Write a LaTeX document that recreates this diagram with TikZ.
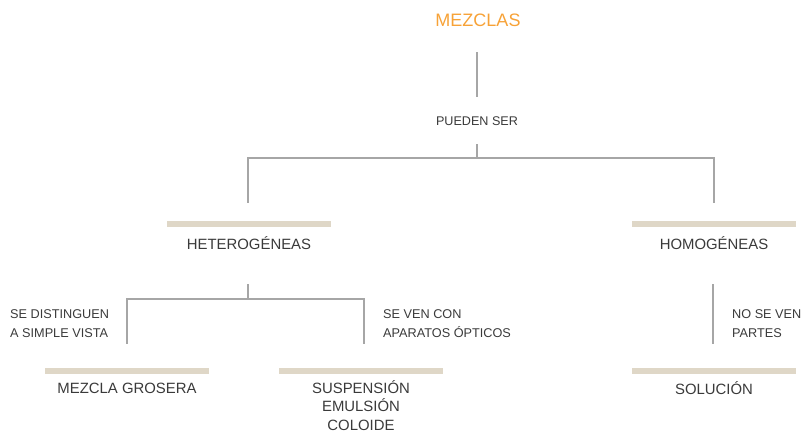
\documentclass[tikz,border=0pt]{standalone}
\usepackage{fontspec}
\setmainfont{Liberation Sans}
\usetikzlibrary{calc}
\definecolor{orangetxt}{HTML}{F7A237}
\definecolor{bartan}{HTML}{DFD7C7}
\definecolor{linegray}{HTML}{A6A6A6}
\definecolor{txtgray}{HTML}{3A3A3A}
\begin{document}
\begin{tikzpicture}[x=1pt,y=-1pt,
  conn/.style={draw=linegray,line width=1.4pt},
  barbox/.style={rectangle,fill=bartan,minimum width=164pt,minimum height=6.5pt,inner sep=0pt},
  maintxt/.style={text=txtgray,font=\fontsize{14.9}{19}\selectfont,align=center,inner sep=0pt},
  smalltxt/.style={text=txtgray,font=\fontsize{12.7}{19}\selectfont,align=left,inner sep=0pt,anchor=west},
  titletxt/.style={text=orangetxt,font=\fontsize{18}{20}\selectfont,inner sep=0pt}]
\useasboundingbox (0,0) rectangle (803,432);
\node[titletxt] (mezclas) at (478,20) {MEZCLAS};
\node[text=txtgray,font=\fontsize{12.6}{15}\selectfont,inner sep=0pt] (pueden) at (477,121) {PUEDEN SER};
\node[barbox] (hetbar) at (249,224) {};
\node[barbox] (hombar) at (714,224) {};
\node[maintxt] (hettxt) at (249,243) {HETEROGÉNEAS};
\node[maintxt] (homtxt) at (714,243) {HOMOGÉNEAS};
\node[barbox] (grosbar) at (127,371) {};
\node[barbox] (suspbar) at (361,371) {};
\node[barbox] (solbar) at (714,371) {};
\node[maintxt] (grostxt) at (127,388) {MEZCLA GROSERA};
\node[maintxt,anchor=north,font=\fontsize{14.9}{18.6}\selectfont] (susptxt) at (361,380) {SUSPENSIÓN\\EMULSIÓN\\COLOIDE};
\node[maintxt] (soltxt) at (714,388) {SOLUCIÓN};
\node[smalltxt] (lblvista) at (10,323.5) {SE DISTINGUEN\\A SIMPLE VISTA};
\node[smalltxt] (lblopt) at (383,323.5) {SE VEN CON\\APARATOS ÓPTICOS};
\node[smalltxt] (lblpartes) at (732,323.5) {NO SE VEN\\PARTES};
% connectors
\draw[conn] ($(pueden)+(0,-69)$) -- ($(pueden)+(0,-24)$);
\draw[conn] ($(pueden)+(0,23)$) -- ($(pueden)+(0,37)$) -| ($(hetbar)+(-1,-21)$);
\draw[conn] ($(pueden)+(0,37)$) -| ($(hombar)+(0,-21)$);
\draw[conn] ($(hettxt)+(-1,41)$) -- ($(hettxt)+(-1,56)$) -| ($(grosbar)+(0,-27)$);
\draw[conn] ($(hettxt)+(-1,56)$) -| ($(suspbar)+(3,-27)$);
\draw[conn] ($(homtxt)+(-1,41)$) -- ($(solbar)+(-1,-27)$);
\end{tikzpicture}
\end{document}
